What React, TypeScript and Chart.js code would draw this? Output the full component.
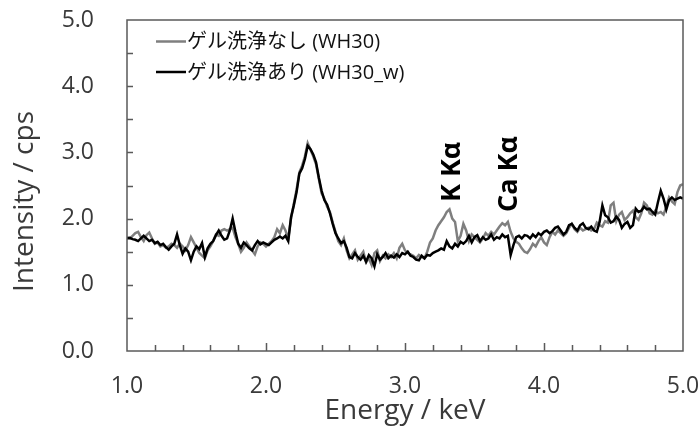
import React, { useEffect, useRef } from "react";
import { Chart, registerables } from "chart.js";

Chart.register(...registerables);

const energy: number[] = [
  1.00, 1.02, 1.04, 1.06, 1.08, 1.10, 1.12, 1.14, 1.16, 1.18,
  1.20, 1.22, 1.24, 1.26, 1.28, 1.30, 1.32, 1.34, 1.36, 1.38,
  1.40, 1.42, 1.44, 1.46, 1.48, 1.50, 1.52, 1.54, 1.56, 1.58,
  1.60, 1.62, 1.64, 1.66, 1.68, 1.70, 1.72, 1.74, 1.76, 1.78,
  1.80, 1.82, 1.84, 1.86, 1.88, 1.90, 1.92, 1.94, 1.96, 1.98,
  2.00, 2.02, 2.04, 2.06, 2.08, 2.10, 2.12, 2.14, 2.16, 2.18,
  2.20, 2.22, 2.24, 2.26, 2.28, 2.30, 2.32, 2.34, 2.36, 2.38,
  2.40, 2.42, 2.44, 2.46, 2.48, 2.50, 2.52, 2.54, 2.56, 2.58,
  2.60, 2.62, 2.64, 2.66, 2.68, 2.70, 2.72, 2.74, 2.76, 2.78,
  2.80, 2.82, 2.84, 2.86, 2.88, 2.90, 2.92, 2.94, 2.96, 2.98,
  3.00, 3.02, 3.04, 3.06, 3.08, 3.10, 3.12, 3.14, 3.16, 3.18,
  3.20, 3.22, 3.24, 3.26, 3.28, 3.30, 3.32, 3.34, 3.36, 3.38,
  3.40, 3.42, 3.44, 3.46, 3.48, 3.50, 3.52, 3.54, 3.56, 3.58,
  3.60, 3.62, 3.64, 3.66, 3.68, 3.70, 3.72, 3.74, 3.76, 3.78,
  3.80, 3.82, 3.84, 3.86, 3.88, 3.90, 3.92, 3.94, 3.96, 3.98,
  4.00, 4.02, 4.04, 4.06, 4.08, 4.10, 4.12, 4.14, 4.16, 4.18,
  4.20, 4.22, 4.24, 4.26, 4.28, 4.30, 4.32, 4.34, 4.36, 4.38,
  4.40, 4.42, 4.44, 4.46, 4.48, 4.50, 4.52, 4.54, 4.56, 4.58,
  4.60, 4.62, 4.64, 4.66, 4.68, 4.70, 4.72, 4.74, 4.76, 4.78,
  4.80, 4.82, 4.84, 4.86, 4.88, 4.90, 4.92, 4.94, 4.96, 4.98,
  5.00,
];

// ゲル洗浄なし (WH30)
const unwashed: number[] = [
  1.72, 1.70, 1.74, 1.78, 1.80, 1.72, 1.66, 1.75, 1.79, 1.70,
  1.62, 1.64, 1.58, 1.60, 1.56, 1.58, 1.62, 1.60, 1.56, 1.62,
  1.58, 1.52, 1.60, 1.72, 1.64, 1.56, 1.48, 1.44, 1.40, 1.52,
  1.58, 1.66, 1.76, 1.74, 1.82, 1.84, 1.82, 1.84, 1.86, 1.72,
  1.62, 1.50, 1.56, 1.64, 1.58, 1.52, 1.46, 1.58, 1.64, 1.62,
  1.58, 1.62, 1.66, 1.72, 1.84, 1.78, 1.90, 1.82, 1.70, 2.00,
  2.22, 2.44, 2.70, 2.80, 2.94, 3.14, 3.04, 2.94, 2.82, 2.60,
  2.38, 2.30, 2.18, 2.10, 1.94, 1.80, 1.66, 1.60, 1.70, 1.52,
  1.40, 1.46, 1.52, 1.38, 1.44, 1.50, 1.34, 1.40, 1.30, 1.48,
  1.52, 1.36, 1.44, 1.40, 1.46, 1.42, 1.48, 1.40, 1.56, 1.62,
  1.52, 1.48, 1.46, 1.44, 1.40, 1.45, 1.42, 1.40, 1.50, 1.64,
  1.70, 1.82, 1.90, 1.96, 2.02, 2.10, 2.14, 2.00, 1.95, 1.66,
  1.74, 1.92, 1.82, 1.66, 1.76, 1.72, 1.68, 1.64, 1.70, 1.78,
  1.74, 1.80, 1.76, 1.82, 1.88, 1.93, 1.90, 1.95, 1.80, 1.70,
  1.65, 1.62, 1.55, 1.50, 1.48, 1.54, 1.62, 1.58, 1.66, 1.72,
  1.64, 1.60, 1.72, 1.80, 1.76, 1.82, 1.78, 1.74, 1.78, 1.86,
  1.92, 1.84, 1.80, 1.86, 1.82, 1.84, 1.86, 1.82, 1.84, 1.94,
  1.90, 1.88, 1.96, 1.94, 2.20, 2.24, 1.96, 2.06, 2.10, 1.98,
  2.02, 2.08, 2.12, 2.02, 1.98, 2.08, 2.24, 2.20, 2.08, 2.06,
  2.12, 2.08, 2.10, 2.06, 2.18, 2.32, 2.26, 2.22, 2.40, 2.50,
  2.52,
];

// ゲル洗浄あり (WH30_w)
const washed: number[] = [
  1.70, 1.71, 1.69, 1.68, 1.66, 1.70, 1.74, 1.70, 1.66, 1.68,
  1.63, 1.65, 1.60, 1.62, 1.57, 1.53, 1.58, 1.62, 1.76, 1.60,
  1.47, 1.55, 1.50, 1.37, 1.50, 1.58, 1.54, 1.63, 1.42, 1.55,
  1.62, 1.66, 1.75, 1.82, 1.74, 1.68, 1.70, 1.82, 2.00, 1.80,
  1.62, 1.56, 1.64, 1.60, 1.55, 1.52, 1.60, 1.66, 1.61, 1.64,
  1.62, 1.60, 1.64, 1.68, 1.70, 1.73, 1.70, 1.74, 1.66, 2.02,
  2.20, 2.40, 2.68, 2.76, 2.90, 3.10, 3.05, 2.97, 2.85, 2.62,
  2.42, 2.28, 2.21, 2.08, 1.92, 1.78, 1.70, 1.63, 1.66, 1.56,
  1.42, 1.40, 1.48, 1.42, 1.38, 1.44, 1.35, 1.45, 1.40, 1.28,
  1.46, 1.38, 1.42, 1.48, 1.40, 1.44, 1.41, 1.46, 1.42, 1.48,
  1.46, 1.50, 1.44, 1.42, 1.38, 1.37, 1.44, 1.40, 1.45, 1.44,
  1.48, 1.50, 1.52, 1.55, 1.53, 1.66, 1.58, 1.55, 1.62, 1.58,
  1.65, 1.62, 1.66, 1.74, 1.64, 1.72, 1.75, 1.66, 1.72, 1.68,
  1.70, 1.76, 1.68, 1.72, 1.70, 1.76, 1.72, 1.74, 1.45, 1.60,
  1.72, 1.74, 1.70, 1.75, 1.74, 1.70, 1.76, 1.72, 1.78, 1.75,
  1.80, 1.82, 1.78, 1.81, 1.86, 1.88, 1.82, 1.76, 1.80, 1.90,
  1.92, 1.86, 1.82, 1.90, 1.93, 1.86, 1.84, 1.88, 1.82, 1.80,
  1.95, 2.20, 2.05, 2.02, 1.94, 1.96, 2.03, 1.98, 1.86, 1.92,
  1.95, 1.86, 1.90, 2.15, 2.10, 2.12, 2.18, 2.14, 2.15, 2.10,
  2.06, 2.25, 2.42, 2.30, 2.14, 2.28, 2.32, 2.28, 2.30, 2.32,
  2.30,
];

const seriesLabels = ["ゲル洗浄なし (WH30)", "ゲル洗浄あり (WH30_w)"];
const peakLabels = ["K Kα", "Ca Kα"];
const peakEnergy = [3.396, 3.806];
const peakBase = [2.25, 2.1];

const AXIS_COLOR = "#5a5a5a";
const TEXT_COLOR = "#3a3a3a";
const FONT = "'Open Sans', 'Noto Sans CJK JP', sans-serif";

const framePlugin = {
  id: "frameTicks",
  afterDatasetsDraw(chart: any) {
    const { ctx, chartArea } = chart;
    const xs = chart.scales.x;
    const ys = chart.scales.y;
    ctx.save();
    ctx.strokeStyle = AXIS_COLOR;
    ctx.lineWidth = 1.5;
    ctx.strokeRect(chartArea.left, chartArea.top, chartArea.right - chartArea.left, chartArea.bottom - chartArea.top);
    ctx.beginPath();
    for (let i = 1; i < 20; i++) {
      const v = 1 + i * 0.2;
      const px = Math.round(xs.getPixelForValue(v)) + 0.5;
      const major = i % 5 === 0;
      ctx.moveTo(px, chartArea.bottom);
      ctx.lineTo(px, chartArea.bottom - (major ? 8 : 6));
    }
    for (let i = 1; i < 10; i++) {
      const v = i * 0.5;
      const py = Math.round(ys.getPixelForValue(v)) + 0.5;
      ctx.moveTo(chartArea.left, py);
      ctx.lineTo(chartArea.left + 6, py);
    }
    ctx.stroke();

    // legend
    const ds = chart.data.datasets;
    const legendY = [41.5, 72];
    ctx.font = `20px ${FONT}`;
    ctx.textBaseline = "middle";
    ctx.textAlign = "left";
    for (let i = 0; i < ds.length; i++) {
      ctx.strokeStyle = ds[i].borderColor;
      ctx.lineWidth = 2.5;
      ctx.beginPath();
      ctx.moveTo(156, legendY[i]);
      ctx.lineTo(186, legendY[i]);
      ctx.stroke();
      ctx.fillStyle = "#111";
      ctx.fillText(ds[i].label, 187, legendY[i] + 1);
    }

    // peak labels (rotated, baseline on the right side)
    ctx.font = `bold 27px ${FONT}`;
    ctx.fillStyle = "#000";
    ctx.textAlign = "left";
    ctx.textBaseline = "alphabetic";
    for (let i = 0; i < peakLabels.length; i++) {
      const px = xs.getPixelForValue(peakEnergy[i]);
      const py = ys.getPixelForValue(peakBase[i]);
      ctx.save();
      ctx.translate(px, py);
      ctx.rotate(-Math.PI / 2);
      ctx.fillText(peakLabels[i], 0, 0);
      ctx.restore();
    }

    // y title
    ctx.save();
    ctx.font = `28px ${FONT}`;
    ctx.fillStyle = TEXT_COLOR;
    ctx.textAlign = "center";
    ctx.textBaseline = "alphabetic";
    ctx.translate(33, 201.5);
    ctx.rotate(-Math.PI / 2);
    ctx.fillText("Intensity / cps", 0, 0);
    ctx.restore();

    ctx.restore();
  },
};

export default function App() {
  const ref = useRef<HTMLCanvasElement>(null);
  useEffect(() => {
    if (!ref.current) return;
    const grayData = energy.map((e, i) => ({ x: e, y: unwashed[i] }));
    const blackData = energy.map((e, i) => ({ x: e, y: washed[i] }));
    const chart = new Chart(ref.current, {
      type: "line",
      data: {
        datasets: [
          {
            label: seriesLabels[0],
            data: grayData,
            borderColor: "#7f7f7f",
            borderWidth: 2.5,
            pointRadius: 0,
            tension: 0,
            order: 2,
          },
          {
            label: seriesLabels[1],
            data: blackData,
            borderColor: "#000000",
            borderWidth: 2.5,
            pointRadius: 0,
            tension: 0,
            order: 1,
          },
        ],
      },
      options: {
        responsive: false,
        animation: false,
        layout: { padding: { left: 0, right: 17, top: 20, bottom: 0 } },
        plugins: {
          legend: { display: false },
          tooltip: { enabled: false },
        },
        scales: {
          x: {
            type: "linear",
            min: 1,
            max: 5,
            grid: { display: false, drawTicks: false },
            border: { display: false },
            ticks: {
              stepSize: 1,
              padding: 22,
              color: TEXT_COLOR,
              font: { family: FONT, size: 23 },
              maxRotation: 0,
              callback: (v: any) => Number(v).toFixed(1),
            },
            title: {
              display: true,
              text: "Energy / keV",
              color: TEXT_COLOR,
              font: { family: FONT, size: 28 },
              padding: { top: 0, bottom: 0 },
            },
            afterFit: (s: any) => {
              s.height = 77;
              s.paddingLeft = 0;
              s.paddingRight = 0;
            },
          },
          y: {
            type: "linear",
            min: 0,
            max: 5,
            grid: { display: false, drawTicks: false },
            border: { display: false },
            ticks: {
              stepSize: 1,
              padding: 33,
              color: TEXT_COLOR,
              font: { family: FONT, size: 23 },
              callback: (v: any) => Number(v).toFixed(1),
            },
            afterFit: (s: any) => {
              s.width = 127;
              s.paddingTop = 0;
              s.paddingBottom = 0;
            },
          },
        },
      },
      plugins: [framePlugin],
    });
    return () => chart.destroy();
  }, []);
  return (
    <div style={{ position: "fixed", left: 0, top: 0, width: 700, height: 428, background: "#fff" }}>
      <canvas ref={ref} width={700} height={428} />
    </div>
  );
}
